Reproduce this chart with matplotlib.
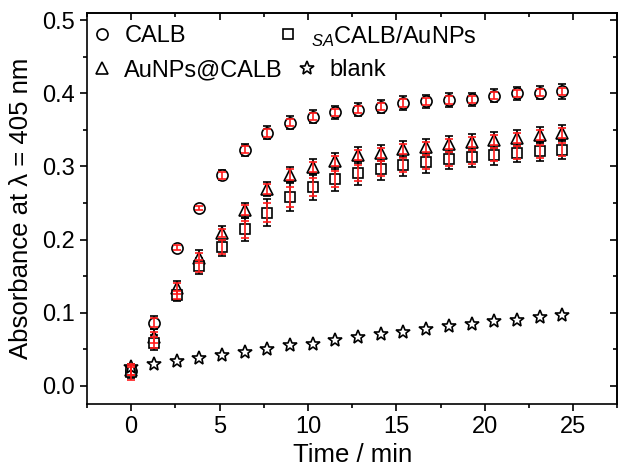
import numpy as np
import matplotlib
matplotlib.use("Agg")
import matplotlib.pyplot as plt
from matplotlib.legend import Legend

# sampling every 77 s
time = np.arange(20) * 77 / 60.0

calb = [0.020, 0.086, 0.189, 0.243, 0.288, 0.323, 0.346, 0.360, 0.368, 0.374,
        0.378, 0.382, 0.387, 0.389, 0.391, 0.392, 0.397, 0.400, 0.401, 0.403]
calb_err = [0.006, 0.009, 0.004, 0.004, 0.007, 0.008, 0.009, 0.009, 0.009, 0.009,
            0.009, 0.009, 0.009, 0.009, 0.009, 0.009, 0.009, 0.009, 0.009, 0.010]
calb_err_red = [0.005, 0.006, 0.003, 0.003, 0.005, 0.005, 0.005, 0.005, 0.005, 0.005,
                0.005, 0.005, 0.005, 0.005, 0.005, 0.005, 0.005, 0.005, 0.005, 0.005]

aunps_calb = [0.022, 0.066, 0.133, 0.175, 0.209, 0.240, 0.269, 0.289, 0.299, 0.308,
              0.316, 0.319, 0.324, 0.327, 0.331, 0.334, 0.336, 0.339, 0.343, 0.346]
aunps_calb_err = [0.008, 0.012, 0.010, 0.010, 0.009, 0.010, 0.010, 0.010, 0.011, 0.011,
                  0.011, 0.011, 0.011, 0.011, 0.011, 0.011, 0.011, 0.011, 0.011, 0.011]
aunps_calb_err_red = [0.007, 0.008, 0.007, 0.007, 0.006, 0.007, 0.007, 0.007, 0.007, 0.007,
                      0.007, 0.007, 0.007, 0.007, 0.007, 0.007, 0.007, 0.007, 0.007, 0.007]

sa_calb = [0.018, 0.059, 0.124, 0.164, 0.190, 0.214, 0.237, 0.258, 0.272, 0.283,
           0.291, 0.297, 0.302, 0.306, 0.310, 0.313, 0.316, 0.319, 0.321, 0.323]
sa_calb_err = [0.008, 0.010, 0.008, 0.011, 0.013, 0.016, 0.018, 0.019, 0.018, 0.017,
               0.016, 0.016, 0.015, 0.015, 0.014, 0.014, 0.014, 0.013, 0.013, 0.013]
sa_calb_err_red = [0.010, 0.008, 0.005, 0.008, 0.010, 0.012, 0.013, 0.014, 0.012, 0.011,
                   0.011, 0.010, 0.010, 0.010, 0.010, 0.010, 0.009, 0.009, 0.009, 0.009]

blank = [0.026, 0.030, 0.034, 0.038, 0.042, 0.046, 0.050, 0.055, 0.057, 0.062,
         0.066, 0.071, 0.073, 0.077, 0.081, 0.085, 0.088, 0.090, 0.094, 0.097]

plt.rcParams["font.family"] = ["Liberation Sans", "DejaVu Sans"]
plt.rcParams["mathtext.fontset"] = "custom"
plt.rcParams["mathtext.rm"] = "Liberation Sans"
plt.rcParams["mathtext.it"] = "Liberation Sans:italic"
plt.rcParams["axes.linewidth"] = 1.2

fig = plt.figure(figsize=(6.19, 4.68), dpi=100)
ax = fig.add_axes([0.1405, 0.137, 0.857, 0.835])

RED = "#ff1a1a"

series = [
    (calb, calb_err, calb_err_red, "o", 8, "CALB"),
    (aunps_calb, aunps_calb_err, aunps_calb_err_red, "^", 9, "AuNPs@CALB"),
    (sa_calb, sa_calb_err, sa_calb_err_red, "s", 7.5, r"$_{SA}$CALB/AuNPs"),
]

handles = {}
for vals, err, err_red, mk, ms, label in series:
    ax.errorbar(time, vals, yerr=err, fmt="none", ecolor="black", elinewidth=1.2,
                capsize=3, capthick=1.2, zorder=2)
    h, = ax.plot(time, vals, mk, ms=ms, mfc="white", mec="black", mew=1.2,
                 ls="none", zorder=3, label=label)
    ax.errorbar(time, vals, yerr=err_red, fmt="none", ecolor=RED, elinewidth=1.2,
                capsize=3, capthick=1.2, zorder=4)
    handles[label] = h

h, = ax.plot(time, blank, "*", ms=10, mfc="white", mec="black", mew=1.2,
             ls="none", zorder=3, label="blank")
handles["blank"] = h

# legend entries placed one by one (columns are not aligned in the original)
legend_pos = {
    "CALB": (0.006, 0.941),
    "AuNPs@CALB": (0.006, 0.854),
    r"$_{SA}$CALB/AuNPs": (0.357, 0.941),
    "blank": (0.392, 0.854),
}
for label, pos in legend_pos.items():
    lg = Legend(ax, [handles[label]], [label], loc="center left", bbox_to_anchor=pos,
                frameon=False, fontsize=17, handletextpad=0.45, borderpad=0,
                borderaxespad=0, handlelength=1.0)
    ax.add_artist(lg)

ax.set_xlim(-2.5, 27.5)
ax.set_ylim(-0.025, 0.51)
ax.set_xticks([0, 5, 10, 15, 20, 25])
ax.set_xticks(np.arange(-2.5, 27.6, 2.5), minor=True)
ax.set_yticks([0.0, 0.1, 0.2, 0.3, 0.4, 0.5])
ax.set_yticks(np.arange(0.0, 0.51, 0.05), minor=True)
ax.set_yticklabels(["0.0", "0.1", "0.2", "0.3", "0.4", "0.5"])

ax.tick_params(which="both", direction="out", labelsize=17, width=1.2)
ax.tick_params(which="major", length=5, pad=4)
ax.tick_params(which="minor", length=3)

# mirrored axes with inward ticks
top = ax.secondary_xaxis("top")
top.set_xticks([0, 5, 10, 15, 20, 25])
top.set_xticks(np.arange(-2.5, 27.6, 2.5), minor=True)
top.tick_params(which="both", direction="in", labeltop=False, width=1.2)
top.tick_params(which="major", length=5)
top.tick_params(which="minor", length=3)
right = ax.secondary_yaxis("right")
right.set_yticks([0.0, 0.1, 0.2, 0.3, 0.4, 0.5])
right.set_yticks(np.arange(0.0, 0.51, 0.05), minor=True)
right.tick_params(which="both", direction="in", labelright=False, width=1.2)
right.tick_params(which="major", length=5)
right.tick_params(which="minor", length=3)

ax.set_xlabel("Time / min", fontsize=18.5, labelpad=3)
ax.set_ylabel("Absorbance at λ = 405 nm", fontsize=18.5, labelpad=6)

fig.savefig("out.png", dpi=100)
